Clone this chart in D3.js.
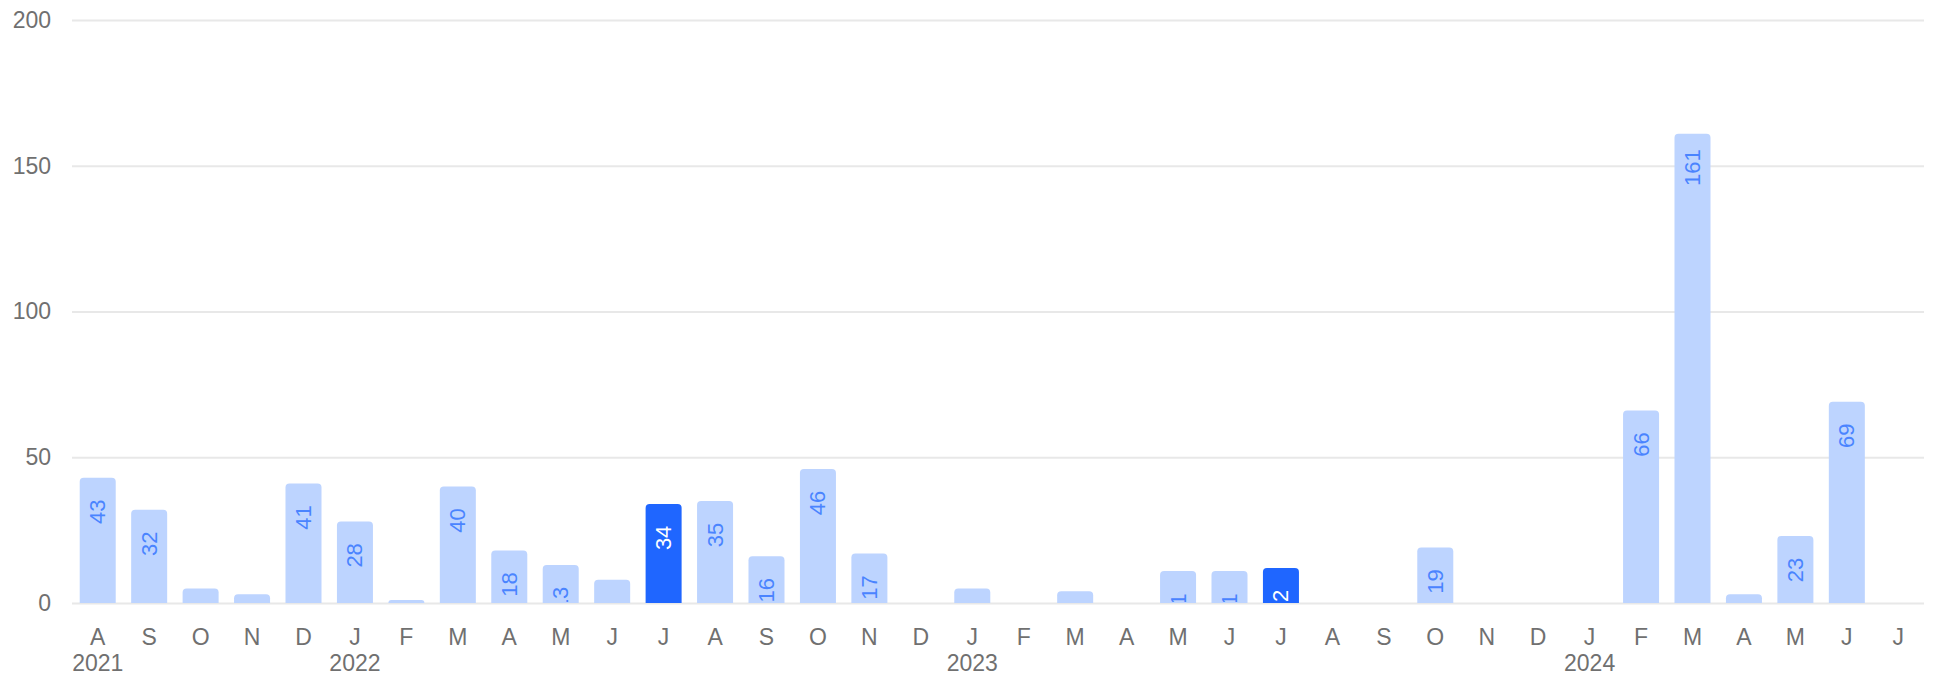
<!DOCTYPE html>
<html>
<head>
<meta charset="utf-8">
<script src="https://cdn.jsdelivr.net/npm/d3@7"></script>
<style>
  body { margin: 0; background: #fff; }
  svg { display: block; font-family: "Liberation Sans", Arial, Helvetica, sans-serif; }
</style>
</head>
<body>
<svg id="chart"></svg>
<script>
// months Aug 2021 .. Jul 2024
var months = ["A","S","O","N","D","J","F","M","A","M","J","J",
              "A","S","O","N","D","J","F","M","A","M","J","J",
              "A","S","O","N","D","J","F","M","A","M","J","J"];
var counts = [43, 32, 5, 3, 41, 28, 1, 40, 18, 13, 8, 34,
              35, 16, 46, 17, 0, 5, 0, 4, 0, 11, 11, 12,
              0, 0, 19, 0, 0, 0, 66, 161, 3, 23, 69, 0];
// which months are highlighted (index into months)
var highlighted = [11, 23];
// year labels sit under these months
var yearAt = [0, 5, 17, 29];
var years = ["2021", "2022", "2023", "2024"];
var yTicks = [0, 50, 100, 150, 200];

var width = 1933;
var height = 676;
var margin = {top: 20, right: 9, bottom: 73, left: 72};

var svg = d3.select("#chart")
            .attr("width", width)
            .attr("height", height);

var x = d3.scaleBand()
          .domain(d3.range(months.length))
          .range([margin.left, width - margin.right])
          .paddingInner(0.3)
          .paddingOuter(0.15);

var y = d3.scaleLinear()
          .domain([0, 200])
          .range([height - margin.bottom, margin.top]);

// gridlines + y labels
var yAxis = svg.append("g")
               .attr("transform", `translate(${margin.left},0)`)
               .call(d3.axisLeft(y).tickValues(yTicks).tickSize(-(width - margin.left - margin.right)).tickPadding(21));
yAxis.select(".domain").remove();
yAxis.selectAll(".tick line").attr("stroke", "#e8e8e8").attr("stroke-width", 2);
yAxis.selectAll(".tick text")
     .attr("fill", "#707070")
     .attr("font-size", 23)
     .attr("font-family", "Liberation Sans, Arial, sans-serif");

svg.append("clipPath")
   .attr("id", "plot-clip")
   .append("rect")
   .attr("x", 0)
   .attr("y", 0)
   .attr("width", width)
   .attr("height", y(0) - 1);

// bar with rounded top corners
function barPath(i, v) {
  var x0 = x(i), w = x.bandwidth(), y0 = y(0), y1 = y(v);
  var r = Math.min(4, (y0 - y1));
  return `M${x0},${y0}V${y1 + r}Q${x0},${y1} ${x0 + r},${y1}H${x0 + w - r}Q${x0 + w},${y1} ${x0 + w},${y1 + r}V${y0}Z`;
}

var barG = svg.append("g");
counts.forEach(function(v, i) {
  if (v <= 0) return;
  barG.append("path")
      .attr("d", barPath(i, v))
      .attr("fill", highlighted.includes(i) ? "#1f66ff" : "#bdd4ff");
});

// value labels, rotated, clipped at the baseline
var labelG = svg.append("g").attr("clip-path", "url(#plot-clip)");
labelG.selectAll("text")
      .data(counts)
      .enter().append("text")
      .attr("transform", (d, i) => `translate(${x(i) + x.bandwidth() / 2},${y(d) + 34}) rotate(-90)`)
      .attr("text-anchor", "middle")
      .attr("dominant-baseline", "central")
      .attr("font-size", 22)
      .attr("fill", (d, i) => highlighted.includes(i) ? "#ffffff" : "#4a84ff")
      .text(d => d);

// month letters
svg.append("g")
   .selectAll("text")
   .data(months)
   .enter().append("text")
   .attr("x", (d, i) => x(i) + x.bandwidth() / 2)
   .attr("y", 645)
   .attr("text-anchor", "middle")
   .attr("font-size", 23)
   .attr("fill", "#707070")
   .text(d => d);

// years
svg.append("g")
   .selectAll("text")
   .data(years)
   .enter().append("text")
   .attr("x", (d, i) => x(yearAt[i]) + x.bandwidth() / 2)
   .attr("y", 671)
   .attr("text-anchor", "middle")
   .attr("font-size", 23)
   .attr("fill", "#707070")
   .text(d => d);
</script>
</body>
</html>
